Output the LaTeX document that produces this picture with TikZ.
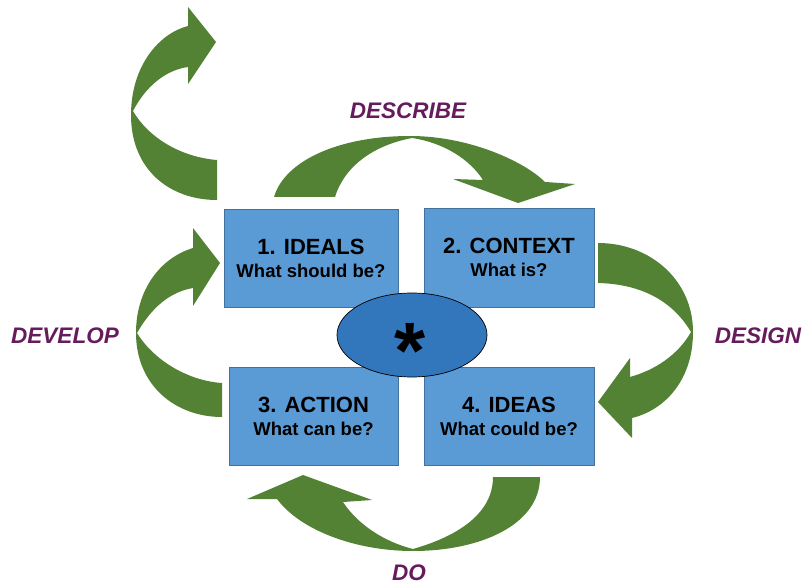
\documentclass[tikz,border=0pt]{standalone}
\usepackage{fontspec}
\setmainfont{Liberation Sans}
\usetikzlibrary{shapes.geometric}
\definecolor{arrowgreen}{RGB}{84,130,53}
\definecolor{boxblue}{RGB}{91,155,213}
\definecolor{boxedge}{RGB}{65,113,156}
\definecolor{ellblue}{RGB}{50,118,188}
\definecolor{labpurple}{RGB}{102,28,92}
\begin{document}
\begin{tikzpicture}[x=1pt,y=-1pt,
  garrow/.style={fill=arrowgreen,draw=none},
  stagebox/.style={rectangle,draw=boxedge,line width=0.8pt,fill=boxblue,
    inner sep=0pt,align=center,text=black,
    font=\bfseries\fontsize{22}{24}\selectfont},
  steplabel/.style={text=labpurple,inner sep=0pt,
    font=\bfseries\itshape\fontsize{22.5}{27}\selectfont}]
\useasboundingbox (0,0) rectangle (804,588);
% top-left arrow
\path[garrow] (217,200) -- (217,160)
  .. controls (180,157) and (148,137) .. (133,111)
  .. controls (146,86) and (166,70) .. (188,67)
  -- (188,84) -- (216,42) -- (188,7) -- (188,26)
  .. controls (160,33) and (131,65) .. (131,115)
  .. controls (131,170) and (170,200) .. (217,200) -- cycle;
% left arrow (DEVELOP)
\path[garrow] (222,417) -- (222,383)
  .. controls (190,381) and (155,362) .. (137,333)
  .. controls (152,307) and (170,292) .. (193,288)
  -- (193,306) -- (220,263) -- (193,228) -- (193,248)
  .. controls (160,258) and (136,290) .. (136,333)
  .. controls (136,385) and (175,417) .. (222,417) -- cycle;
% right arrow (DESIGN)
\path[garrow] (598,243)
  .. controls (650,243) and (693,280) .. (693,332)
  .. controls (693,380) and (665,410) .. (632,418)
  -- (632,438) -- (598,402) -- (630,358) -- (630,377)
  .. controls (655,370) and (678,355) .. (691,332)
  .. controls (672,300) and (640,284) .. (598,283) -- cycle;
% top arrow (DESCRIBE)
\path[garrow] (274,197)
  .. controls (285,160) and (340,136) .. (410,136)
  .. controls (470,136) and (525,162) .. (545,182)
  -- (575,184) -- (518,203) -- (453,179) -- (483,180)
  .. controls (470,160) and (445,143) .. (412,138)
  .. controls (375,145) and (345,165) .. (335,197) -- cycle;
% bottom arrow (DO)
\path[garrow] (540,477)
  .. controls (540,525) and (480,551) .. (413,551)
  .. controls (355,551) and (300,530) .. (277,499)
  -- (247,499) -- (303,475) -- (372,500) -- (343,502)
  .. controls (358,525) and (385,542) .. (413,549)
  .. controls (455,537) and (493,515) .. (493,477) -- cycle;
% boxes
\node[stagebox,minimum width=174pt,minimum height=98pt] (ideals) at (311,258)
  {1. IDEALS\\[-1pt]{\fontsize{18.5}{24}\selectfont What should be?}};
\node[stagebox,minimum width=170pt,minimum height=99pt] (context) at (509,257.5)
  {2. CONTEXT\\[-1pt]{\fontsize{18.5}{24}\selectfont What is?}};
\node[stagebox,minimum width=169pt,minimum height=98pt] (action) at (313.5,416)
  {3. ACTION\\[-1pt]{\fontsize{18.5}{24}\selectfont What can be?}};
\node[stagebox,minimum width=170pt,minimum height=98pt] (ideas) at (509,416)
  {4. IDEAS\\[-1pt]{\fontsize{18.5}{24}\selectfont What could be?}};
% centre ellipse
\node[ellipse,minimum width=150pt,minimum height=84pt,fill=ellblue,
  draw=black,line width=0.7pt,inner sep=0pt] (core) at (412,335) {};
\node[anchor=base,inner sep=0pt,font=\bfseries\fontsize{80}{80}\selectfont]
  (star) at (410,378) {*};
% labels
\node[steplabel] (describe) at (408,111) {DESCRIBE};
\node[steplabel] (design) at (758,336) {DESIGN};
\node[steplabel] (develop) at (65,336) {DEVELOP};
\node[steplabel] (do) at (409,573) {DO};
\end{tikzpicture}
\end{document}
